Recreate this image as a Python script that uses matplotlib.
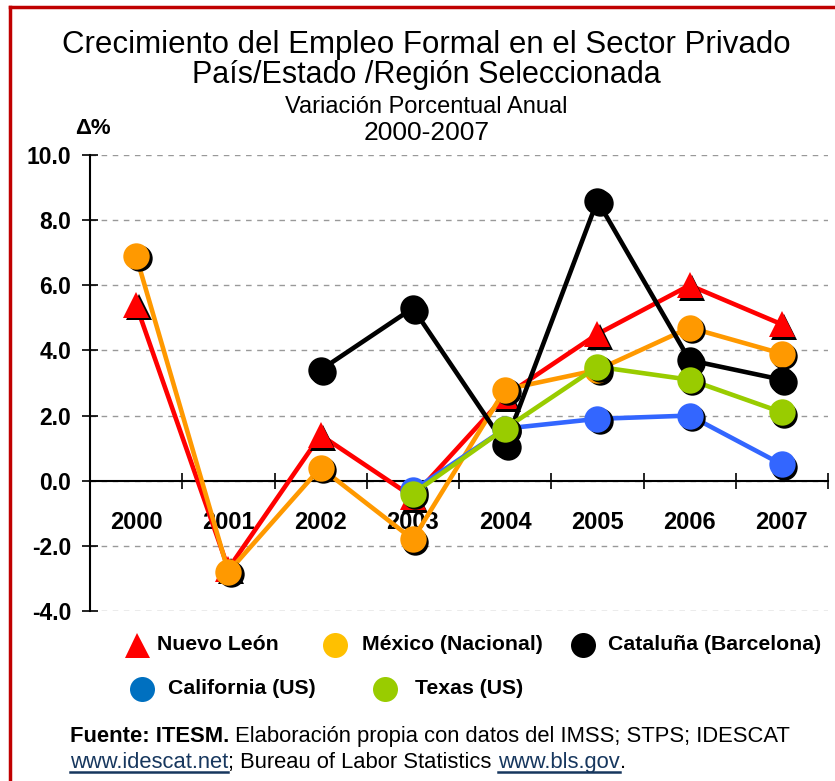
import matplotlib
matplotlib.use("Agg")
import matplotlib.pyplot as plt
from matplotlib.lines import Line2D
from matplotlib.transforms import ScaledTranslation
import numpy as np

# --- data ---
years = ["2000", "2001", "2002", "2003", "2004", "2005", "2006", "2007"]
nuevo_leon = [5.4, -2.7, 1.4, -0.5, 2.6, 4.5, 6.0, 4.8]
mexico = [6.9, -2.8, 0.4, -1.8, 2.8, 3.4, 4.7, 3.9]
cataluna = [np.nan, np.nan, 3.4, 5.3, 1.1, 8.6, 3.7, 3.1]
california = [np.nan, np.nan, np.nan, -0.3, 1.6, 1.9, 2.0, 0.5]
texas = [np.nan, np.nan, np.nan, -0.4, 1.6, 3.5, 3.1, 2.1]

series = [
    ("Nuevo León", nuevo_leon, "#FF0000", "^", "#FF0000"),
    ("México (Nacional)", mexico, "#FF9900", "o", "#FFC000"),
    ("Cataluña (Barcelona)", cataluna, "#000000", "o", "#000000"),
    ("California (US)", california, "#3366FF", "o", "#0070C0"),
    ("Texas (US)", texas, "#99CC00", "o", "#99CC00"),
]

plt.rcParams['font.family'] = ['Liberation Sans', 'DejaVu Sans']

W, H = 835, 781
fig = plt.figure(figsize=(W / 100, H / 100), dpi=100)
ax = fig.add_axes([90 / W, 1 - 611 / H, (828 - 90) / W, (611 - 155) / H])

x = np.arange(len(years))
shadow = ax.transData + ScaledTranslation(2.5 / 100, -2.5 / 100, fig.dpi_scale_trans)
for i, (name, vals, col, mk, _) in enumerate(series):
    z = 3 + i
    ax.plot(x, vals, color=col, lw=3.3, zorder=z)
    ax.plot(x, vals, ls="none", marker=mk, ms=19, color="black", mew=0,
            transform=shadow, zorder=z)
    ax.plot(x, vals, ls="none", marker=mk, ms=19, color=col, mew=0, zorder=z)

# spine position first (it resets the ticks)
ax.spines["bottom"].set_position(("data", 0))
ax.spines["top"].set_visible(False)
ax.spines["right"].set_visible(False)
ax.spines["left"].set_linewidth(1.5)
ax.spines["bottom"].set_linewidth(1.5)

ax.set_xlim(-0.5, 7.5)
ax.set_ylim(-4, 10)
ax.set_yticks(np.arange(-4, 10.1, 2))
ax.set_yticklabels([f"{v:.1f}" for v in np.arange(-4, 10.1, 2)],
                   fontsize=16.5, fontweight="bold")
ax.set_xticks(x)
ax.set_xticklabels(years, fontsize=17, fontweight="bold")
ax.set_xticks(np.arange(-0.5, 7.6, 1), minor=True)
ax.tick_params(axis="x", which="major", length=0, pad=22)
ax.tick_params(axis="x", which="minor", length=11, width=1.2, direction="inout")
ax.tick_params(axis="y", length=11, width=1.2, direction="inout", pad=8)
ax.yaxis.grid(True, ls=(0, (4, 4)), color="#999999", lw=1)
ax.set_axisbelow(True)

# titles
fig.text(0.511, 1 - 45 / H, "Crecimiento del Empleo Formal en el Sector Privado",
         ha="center", va="center", fontsize=22.5)
fig.text(0.511, 1 - 75 / H, "País/Estado /Región Seleccionada",
         ha="center", va="center", fontsize=22)
fig.text(0.511, 1 - 107 / H, "Variación Porcentual Anual",
         ha="center", va="center", fontsize=17)
fig.text(0.511, 1 - 133 / H, "2000-2007",
         ha="center", va="center", fontsize=19)
fig.text(93 / W, 1 - 128 / H, "Δ%", ha="center", va="center",
         fontsize=16, fontweight="bold")

# legend
legend_mark = [(137, 645), (335, 645), (583, 645), (142, 689), (385, 689)]
legend_text = [157, 362, 608, 168, 415]
for (name, vals, col, mk, lcol), (px, py), tx in zip(series, legend_mark, legend_text):
    fig.add_artist(Line2D([px / W], [1 - py / H], marker=mk, ms=18, color=lcol,
                          mew=0, ls="none"))
    fig.text(tx / W, 1 - py / H, name, ha="left", va="center",
             fontsize=15.3, fontweight="bold")

# footer with mixed styles
fig.canvas.draw()
renderer = fig.canvas.get_renderer()
link = "#17375E"


def chain(parts, y):
    xpos = 70
    for txt, weight, col, under in parts:
        t = fig.text(xpos / W, 1 - y / H, txt, ha="left", va="baseline",
                     fontsize=15.8, fontweight=weight, color=col)
        bb = t.get_window_extent(renderer)
        if under:
            fig.add_artist(Line2D([bb.x0 / W, bb.x1 / W],
                                  [(H - y - 4) / H, (H - y - 4) / H],
                                  color=col, lw=1.8))
        xpos += bb.width


chain([("Fuente: ITESM.", "bold", "black", False),
       (" Elaboración propia con datos del IMSS; STPS; IDESCAT", "normal", "black", False)], 742)
chain([("www.idescat.net", "normal", link, True),
       ("; Bureau of Labor Statistics ", "normal", "black", False),
       ("www.bls.gov", "normal", link, True),
       (".", "normal", "black", False)], 768)

# red frame
fig.add_artist(Line2D([10 / W, 10 / W], [0, 1 - 6.5 / H], color="#C00000", lw=2.5))
fig.add_artist(Line2D([10 / W, 1], [1 - 6.5 / H, 1 - 6.5 / H], color="#C00000", lw=2.5))

fig.savefig("out.png", dpi=100)
